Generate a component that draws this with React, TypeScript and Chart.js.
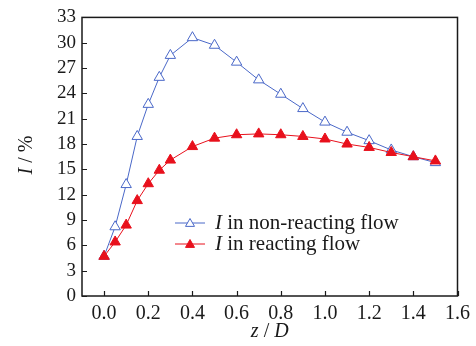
import React, { useEffect, useRef } from "react";
import { Chart, registerables } from "chart.js";

Chart.register(...registerables);

const xValues = [0, 0.05, 0.1, 0.15, 0.2, 0.25, 0.3, 0.4, 0.5, 0.6, 0.7, 0.8, 0.9, 1.0, 1.1, 1.2, 1.3, 1.4, 1.5];
const nonReacting = [4.7, 8.2, 13.2, 18.9, 22.7, 25.9, 28.5, 30.6, 29.7, 27.7, 25.6, 23.9, 22.2, 20.6, 19.4, 18.4, 17.3, 16.5, 15.8];
const reacting = [4.7, 6.4, 8.4, 11.3, 13.3, 14.9, 16.1, 17.7, 18.7, 19.1, 19.2, 19.1, 18.9, 18.6, 18.0, 17.6, 17.0, 16.5, 16.0];
const xTicks = [0, 0.2, 0.4, 0.6, 0.8, 1.0, 1.2, 1.4, 1.6];
const yTicks = [0, 3, 6, 9, 12, 15, 18, 21, 24, 27, 30, 33];
const legendLabels = ["non-reacting flow", "reacting flow"];

const BLUE = "#4a68c8";
const RED = "#e8101c";
const FONT = "'Liberation Serif', 'Times New Roman', serif";
const INK = "#1a1a1a";

const decor = {
  id: "decor",
  afterDraw(chart: any) {
    const { ctx, chartArea, scales } = chart;
    const { left, right, top, bottom } = chartArea;
    const xs = scales.x;
    const ys = scales.y;
    ctx.save();
    ctx.strokeStyle = INK;
    ctx.lineWidth = 1.5;
    ctx.strokeRect(left, top, right - left, bottom - top);
    ctx.lineWidth = 1.2;
    ctx.beginPath();
    xs.ticks.forEach((t: any) => {
      const px = Math.round(xs.getPixelForValue(t.value)) + 0.5;
      ctx.moveTo(px, bottom);
      ctx.lineTo(px, bottom - 5);
    });
    ys.ticks.forEach((t: any) => {
      const py = Math.round(ys.getPixelForValue(t.value)) + 0.5;
      ctx.moveTo(left, py);
      ctx.lineTo(left + 5, py);
    });
    ctx.stroke();

    const mixed = (parts: [string, boolean][], cx: number, cy: number, size: number, align: "left" | "center") => {
      ctx.textBaseline = "middle";
      ctx.textAlign = "left";
      let total = 0;
      const widths = parts.map(([s, it]) => {
        ctx.font = `${it ? "italic " : ""}${size}px ${FONT}`;
        const w = ctx.measureText(s).width;
        total += w;
        return w;
      });
      let x = align === "center" ? cx - total / 2 : cx;
      parts.forEach(([s, it], i) => {
        ctx.font = `${it ? "italic " : ""}${size}px ${FONT}`;
        ctx.fillStyle = INK;
        ctx.fillText(s, x, cy);
        x += widths[i];
      });
    };

    // axis titles
    mixed([["z", true], [" / ", false], ["D", true]], (left + right) / 2, 332, 20, "center");
    ctx.save();
    ctx.translate(27, 155);
    ctx.rotate(-Math.PI / 2);
    mixed([["I", true], [" / %", false]], 0, 0, 20, "center");
    ctx.restore();

    // legend
    const rows = [
      { y: 223, color: BLUE, fill: "#ffffff", label: legendLabels[0] },
      { y: 244, color: RED, fill: RED, label: legendLabels[1] },
    ];
    rows.forEach((r) => {
      ctx.strokeStyle = r.color;
      ctx.lineWidth = 1;
      ctx.beginPath();
      ctx.moveTo(175, r.y);
      ctx.lineTo(205, r.y);
      ctx.stroke();
      const s = 4.5;
      ctx.beginPath();
      ctx.moveTo(190, r.y - s);
      ctx.lineTo(190 + s, r.y + s * 0.75);
      ctx.lineTo(190 - s, r.y + s * 0.75);
      ctx.closePath();
      ctx.fillStyle = r.fill;
      ctx.fill();
      ctx.stroke();
      mixed([["I", true], [" in " + r.label, false]], 215, r.y, 21, "left");
    });
    ctx.restore();
  },
};

export default function App() {
  const ref = useRef<HTMLCanvasElement | null>(null);
  useEffect(() => {
    if (!ref.current) return;
    const chart = new Chart(ref.current, {
      type: "line",
      data: {
        datasets: [
          {
            label: "I in non-reacting flow",
            data: xValues.map((x, i) => ({ x, y: nonReacting[i] })),
            borderColor: BLUE,
            borderWidth: 1,
            pointStyle: "triangle",
            pointRadius: 6,
            pointBorderWidth: 1,
            pointBackgroundColor: "#ffffff",
            pointBorderColor: BLUE,
            tension: 0,
            order: 1,
          },
          {
            label: "I in reacting flow",
            data: xValues.map((x, i) => ({ x, y: reacting[i] })),
            borderColor: RED,
            borderWidth: 1,
            pointStyle: "triangle",
            pointRadius: 6,
            pointBorderWidth: 1,
            pointBackgroundColor: RED,
            pointBorderColor: RED,
            tension: 0,
            order: 0,
          },
        ],
      },
      options: {
        animation: false,
        responsive: true,
        maintainAspectRatio: false,
        layout: { padding: { top: 17, right: 16, left: 0, bottom: 0 } },
        plugins: { legend: { display: false }, tooltip: { enabled: false } },
        scales: {
          x: {
            type: "linear",
            min: -0.1,
            max: 1.6,
            grid: { display: false, drawTicks: false },
            border: { display: false },
            afterBuildTicks: (s: any) => {
              s.ticks = xTicks.map((v) => ({ value: v }));
            },
            afterFit: (s: any) => {
              s.height = 50;
            },
            ticks: {
              padding: 6,
              color: INK,
              font: { family: FONT, size: 20 },
              callback: (v: any) => Number(v).toFixed(1),
              maxRotation: 0,
              autoSkip: false,
            },
          },
          y: {
            type: "linear",
            min: 0,
            max: 33,
            grid: { display: false, drawTicks: false },
            border: { display: false },
            afterBuildTicks: (s: any) => {
              s.ticks = yTicks.map((v) => ({ value: v }));
            },
            afterFit: (s: any) => {
              s.width = 82;
            },
            ticks: {
              padding: 6,
              color: INK,
              font: { family: FONT, size: 19 },
              autoSkip: false,
            },
          },
        },
      },
      plugins: [decor],
    });
    return () => chart.destroy();
  }, []);
  return (
    <div style={{ position: "fixed", left: 0, top: 0, width: 476, height: 346, background: "#fff" }}>
      <canvas ref={ref} />
    </div>
  );
}
